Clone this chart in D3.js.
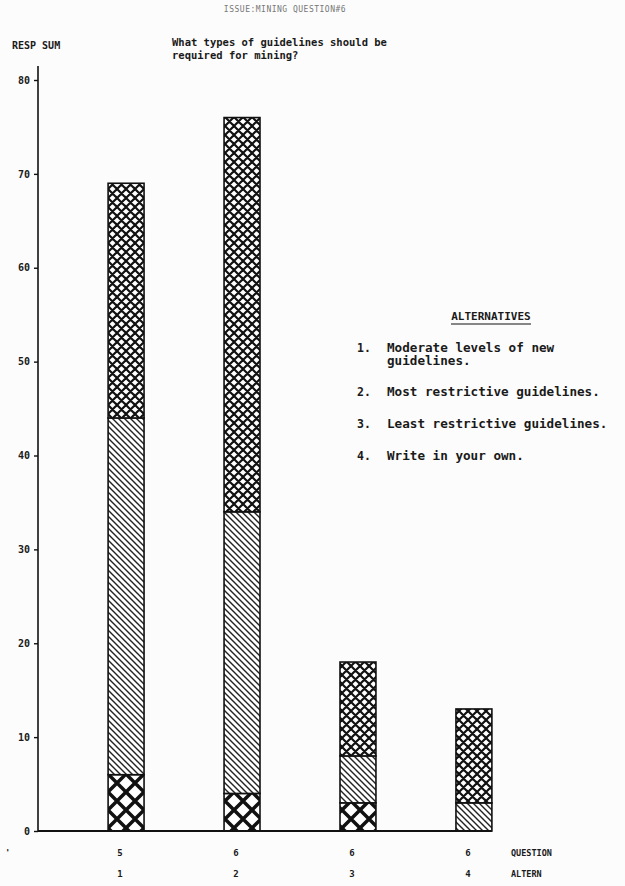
<!DOCTYPE html>
<html><head><meta charset="utf-8">
<script src="https://cdn.jsdelivr.net/npm/d3@7"></script>
<style>
html,body{margin:0;padding:0;background:#fcfcfc;}
svg text{font-family:"DejaVu Sans Mono",monospace;fill:#1a1a1a;}
</style></head>
<body><svg id="c" width="625" height="886"></svg>
<script>
const alternatives = ["1","2","3","4"];
const questionLabels = ["5","6","6","6"];
const seriesNames = ["bottom","middle","top"];
const bottomValues = [6, 4, 3, 0];
const middleValues = [38, 30, 5, 3];
const topValues = [25, 42, 10, 10];
const yTicks = [0,10,20,30,40,50,60,70,80];
const legendItems = [
  ["1.", ["Moderate levels of new", "guidelines."]],
  ["2.", ["Most restrictive guidelines."]],
  ["3.", ["Least restrictive guidelines."]],
  ["4.", ["Write in your own."]]
];

const svg = d3.select("#c");
const defs = svg.append("defs");
// fine crosshatch
const p1 = defs.append("pattern").attr("id","fine").attr("patternUnits","userSpaceOnUse").attr("width",9).attr("height",9);
p1.append("rect").attr("width",9).attr("height",9).attr("fill","#fff");
p1.append("path").attr("d","M-1,-1L10,10M10,-1L-1,10M-5,4L4,13M5,-4L13,5M4,-5L-5,4M13,4L4,13").attr("stroke","#111").attr("stroke-width",2.2);
// diagonal
const p2 = defs.append("pattern").attr("id","diag").attr("patternUnits","userSpaceOnUse").attr("width",6).attr("height",6);
p2.append("rect").attr("width",6).attr("height",6).attr("fill","#fff");
p2.append("path").attr("d","M-1,-1L7,7M-4,2L2,8M2,-4L8,2").attr("stroke","#222").attr("stroke-width",1.4);
// coarse crosshatch
const p3 = defs.append("pattern").attr("id","coarse").attr("patternUnits","userSpaceOnUse").attr("width",18).attr("height",18);
p3.append("rect").attr("width",18).attr("height",18).attr("fill","#fff");
p3.append("path").attr("d","M-2,-2L20,20M20,-2L-2,20").attr("stroke","#111").attr("stroke-width",3.5);
const fills = {bottom:"url(#coarse)", middle:"url(#diag)", top:"url(#fine)"};

const y = d3.scaleLinear().domain([0,80]).range([831,80]);
const x = d3.scaleBand().domain(alternatives).range([71,529]).paddingInner(0.69).paddingOuter(0.32);

const data = alternatives.map((a,i)=>({alt:a, bottom:bottomValues[i], middle:middleValues[i], top:topValues[i]}));
const stack = d3.stack().keys(seriesNames)(data);

// title
svg.append("text").attr("x",285).attr("y",12).attr("text-anchor","middle").attr("font-size",8).style("fill","#777").attr("letter-spacing",0.5).text("ISSUE:MINING   QUESTION#6");
svg.append("text").attr("x",172).attr("y",46).attr("font-size",10.5).attr("font-weight","bold").text("What types of guidelines should be");
svg.append("text").attr("x",172).attr("y",59).attr("font-size",10.5).attr("font-weight","bold").text("required for mining?");
svg.append("text").attr("x",12).attr("y",49).attr("font-size",10).attr("font-weight","bold").text("RESP SUM");

// y axis
svg.append("line").attr("x1",38).attr("x2",38).attr("y1",66).attr("y2",y(0)).attr("stroke","#111").attr("stroke-width",1.6);
const ax = svg.append("g").attr("transform","translate(38,0)")
  .call(d3.axisLeft(y).tickValues(yTicks).tickSize(4).tickPadding(4));
ax.select(".domain").remove();
ax.selectAll(".tick line").attr("stroke","#111").attr("stroke-width",1.4);
ax.selectAll(".tick text").attr("font-family","DejaVu Sans Mono").attr("font-size",10).attr("font-weight","bold").style("fill","#1a1a1a");

// bars
const g = svg.append("g");
stack.forEach(s=>{
  g.selectAll(null).data(s).enter().append("rect")
    .attr("x",d=>x(d.data.alt))
    .attr("y",d=>y(d[1]))
    .attr("width",x.bandwidth())
    .attr("height",d=>y(d[0])-y(d[1]))
    .attr("fill",fills[s.key])
    .attr("stroke",d=>d[1]>d[0]?"#111":"none")
    .attr("stroke-width",1.6);
});

// baseline
svg.append("line").attr("x1",38).attr("x2",x("4")+x.bandwidth()).attr("y1",y(0)).attr("y2",y(0)).attr("stroke","#111").attr("stroke-width",2.2);

// bottom labels
svg.append("text").attr("x",5).attr("y",856).attr("font-size",9).attr("font-weight","bold").text("'");
alternatives.forEach((a,i)=>{
  const cx = x(a)+x.bandwidth()/2 - 6;
  svg.append("text").attr("x",cx).attr("y",856).attr("text-anchor","middle").attr("font-size",9).attr("font-weight","bold").text(questionLabels[i]);
  svg.append("text").attr("x",cx).attr("y",877).attr("text-anchor","middle").attr("font-size",9).attr("font-weight","bold").text(a);
});
svg.append("text").attr("x",511).attr("y",856).attr("font-size",8.5).attr("font-weight","bold").text("QUESTION");
svg.append("text").attr("x",511).attr("y",877).attr("font-size",8.5).attr("font-weight","bold").text("ALTERN");

// legend
svg.append("text").attr("x",491).attr("y",320).attr("text-anchor","middle").attr("font-size",11).attr("font-weight","bold").text("ALTERNATIVES");
svg.append("line").attr("x1",451).attr("x2",531).attr("y1",324).attr("y2",324).attr("stroke","#111").attr("stroke-width",1.2);
const ly = [352, 396, 428, 460];
legendItems.forEach((it,i)=>{
  svg.append("text").attr("x",357).attr("y",ly[i]).attr("font-size",11.5).attr("font-weight","bold").text(it[0]);
  it[1].forEach((ln,j)=>{
    svg.append("text").attr("x",387).attr("y",ly[i]+j*13).attr("font-size",11.5).attr("font-weight","bold")
      .attr("textLength", ln.length*7.6).attr("lengthAdjust","spacingAndGlyphs").text(ln);
  });
});
</script></body></html>
